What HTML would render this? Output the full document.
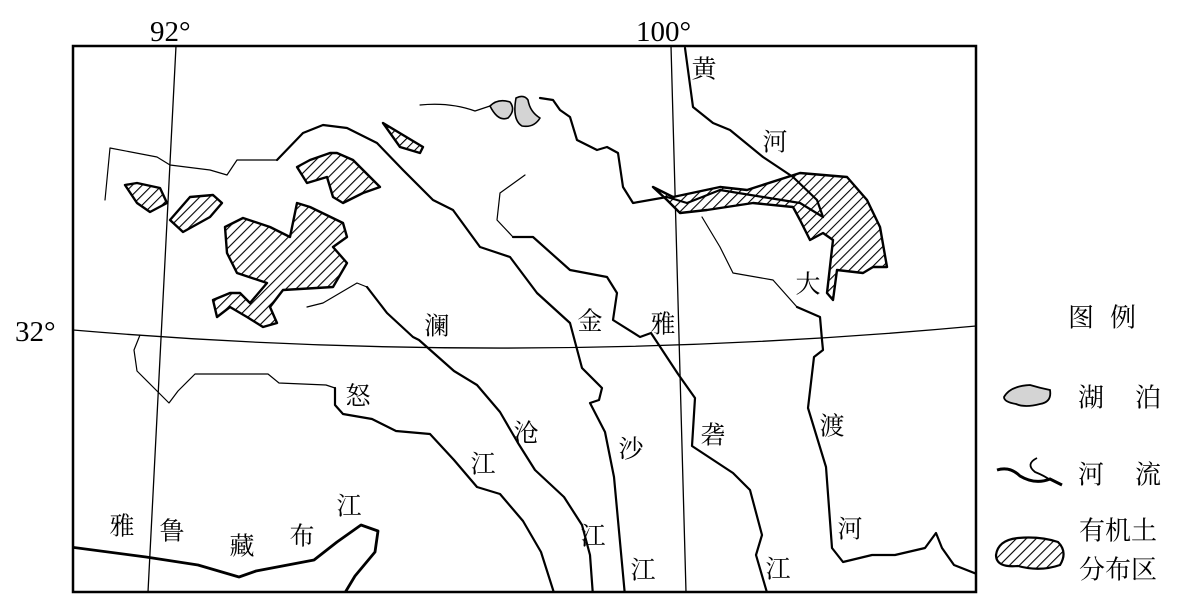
<!DOCTYPE html>
<html><head><meta charset="utf-8"><style>
html,body{margin:0;padding:0;background:#fff;}
svg{display:block;}
text{font-family:"Liberation Serif","Noto Serif CJK SC",serif;fill:#000;}
</style></head><body>
<svg width="1187" height="605" viewBox="0 0 1187 605" xmlns="http://www.w3.org/2000/svg">
<defs>
<pattern id="h" patternUnits="userSpaceOnUse" width="7" height="7" patternTransform="rotate(45)">
<rect width="7" height="7" fill="#fff"/><line x1="0" y1="0" x2="0" y2="7" stroke="#000" stroke-width="2.2"/>
</pattern>
<clipPath id="c"><rect x="73" y="46" width="903" height="546"/></clipPath>
</defs>
<g clip-path="url(#c)" fill="none" stroke="#000" stroke-linejoin="round" stroke-linecap="round">
<line x1="176" y1="46" x2="148" y2="592" stroke-width="1.3"/>
<line x1="671" y1="46" x2="686" y2="592" stroke-width="1.3"/>
<path d="M73,330 Q520,368 976,326" stroke-width="1.3"/>
<g fill="url(#h)" stroke-width="2.4">
<path d="M125,185 L137,183 L160,188 L167,203 L150,212 L137,203 Z"/>
<path d="M170,220 L190,197 L213,195 L222,203 L210,217 L183,232 Z"/>
<path d="M225,227 L243,218 L270,227 L290,237 L297,203 L310,207 L343,223 L347,237 L333,247 L347,263 L333,287 L283,290 L270,307 L277,323 L263,327 L247,317 L230,307 L217,317 L213,300 L230,293 L240,293 L250,303 L267,283 L237,273 L227,253 Z"/>
<path d="M297,167 L310,160 L330,153 L337,153 L353,160 L380,187 L363,193 L343,203 L333,197 L327,177 L307,183 Z"/>
<path d="M383,123 L423,147 L420,153 L400,147 Z"/>
<path d="M653,187 L673,197 L720,187 L747,190 L800,173 L847,177 L867,200 L880,227 L887,267 L873,267 L863,273 L837,270 L833,300 L827,293 L833,240 L823,233 L810,240 L800,220 L793,207 L753,203 L707,210 L680,213 L667,200 Z"/>
</g>
<g fill="#d4d4d4" stroke-width="1.6">
<path d="M490,106 Q498,98 510,102 Q516,110 508,118 Q498,122 490,106 Z"/>
<path d="M516,98 Q524,94 528,100 Q530,112 540,118 Q534,128 522,126 Q512,120 516,98 Z"/>
</g>
<g stroke-width="1.2">
<path d="M420,105 Q450,102 475,111 L490,106"/>
<path d="M105,200 L110,148 L157,157 L170,165 L210,170 L227,175 L237,160 L277,160"/>
<path d="M525,175 L500,193 L497,220 L513,237"/>
<path d="M307,307 L323,303 L357,283 L367,287"/>
<path d="M140,335 L134,350 L137,371 L157,391 L169,403 L178,391 L195,374 L227,374 L268,374 L279,383 L326,385 L335,388"/>
<path d="M702,217 L720,247 L733,273 L773,280 L797,307"/>
</g>
<g stroke-width="2.2">
<path d="M540,98 L553,100 L560,110 L570,117 L577,140 L597,150 L607,147 L618,153 L623,187 L633,203 L667,197 L687,203 L720,190 L763,197 L800,203 L823,217 L817,200 L793,177 L763,157 L730,130 L713,123 L693,107 L685,48"/>
<path d="M277,160 L303,133 L323,125 L347,128 L377,143 L403,170 L433,200 L453,210 L480,247 L510,257 L537,293 L570,323 L582,368 L602,388 L599,400 L590,403 L605,432 L614,477 L625,596"/>
<path d="M513,237 L533,237 L570,270 L607,277 L617,293 L613,320 L640,337 L651,333 L678,374 L695,398 L692,446 L733,473 L750,490 L762,535 L756,555 L768,596"/>
<path d="M367,287 L387,313 L413,337 L419,340 L454,371 L477,385 L500,412 L518,443 L535,470 L564,497 L582,525 L590,555 L593,596"/>
<path d="M335,388 L335,405 L343,414 L372,419 L396,431 L430,434 L454,460 L477,487 L500,494 L523,521 L541,552 L555,596"/>
<path d="M797,307 L820,317 L822,340 L823,350 L814,357 L808,408 L826,467 L832,548 L843,562 L872,555 L895,555 L925,548 L936,533 L942,548 L954,565 L982,576"/>
<path d="M70,547 L146,557 L198,565 L239,577 L256,571 L314,560 L337,542 L361,525 L378,531 L375,552 L355,576 L343,596" stroke-width="2.8"/>
</g>
</g>
<rect x="73" y="46" width="903" height="546" fill="none" stroke="#000" stroke-width="2.5"/>
<g font-size="29">
<text x="150" y="41">92°</text>
<text x="636" y="41">100°</text>
<text x="15" y="341">32°</text>
</g>
<g font-size="25" text-anchor="middle" dominant-baseline="central">
<text x="704" y="70">黄</text><text x="775" y="143">河</text><text x="808" y="285">大</text>
<text x="437" y="327">澜</text><text x="590" y="322">金</text><text x="663" y="325">雅</text>
<text x="358" y="397">怒</text><text x="526" y="434">沧</text><text x="631" y="450">沙</text>
<text x="713" y="436">砻</text><text x="832" y="427">渡</text><text x="483" y="465">江</text>
<text x="593" y="537">江</text><text x="643" y="571">江</text><text x="778" y="570">江</text>
<text x="850" y="530">河</text>
<text x="122" y="527">雅</text><text x="172" y="532">鲁</text><text x="242" y="547">藏</text>
<text x="302" y="537">布</text><text x="349" y="507">江</text>
</g>
<g font-size="26" dominant-baseline="central">
<text x="1068" y="318">图</text><text x="1110" y="318">例</text>
<text x="1078" y="398">湖</text><text x="1135" y="398">泊</text>
<text x="1078" y="475">河</text><text x="1135" y="475">流</text>
<text x="1079" y="531">有机土</text><text x="1079" y="570">分布区</text>
</g>
<path d="M1004,397 Q1010,386 1030,385 Q1040,388 1050,390 Q1052,402 1040,404 Q1025,408 1016,404 Q1004,402 1004,397 Z" fill="#d4d4d4" stroke="#000" stroke-width="1.8"/>
<path d="M997,470 Q1010,466 1020,476 Q1035,485 1050,479 L1062,485" fill="none" stroke="#000" stroke-width="3"/>
<path d="M1037,458 Q1025,464 1035,472 Q1045,476 1050,480" fill="none" stroke="#000" stroke-width="1.8"/>
<path d="M996,555 Q998,540 1018,538 Q1040,536 1058,542 Q1068,552 1060,565 Q1040,572 1018,566 Q996,568 996,555 Z" fill="url(#h)" stroke="#000" stroke-width="2.2"/>
</svg>
</body></html>
